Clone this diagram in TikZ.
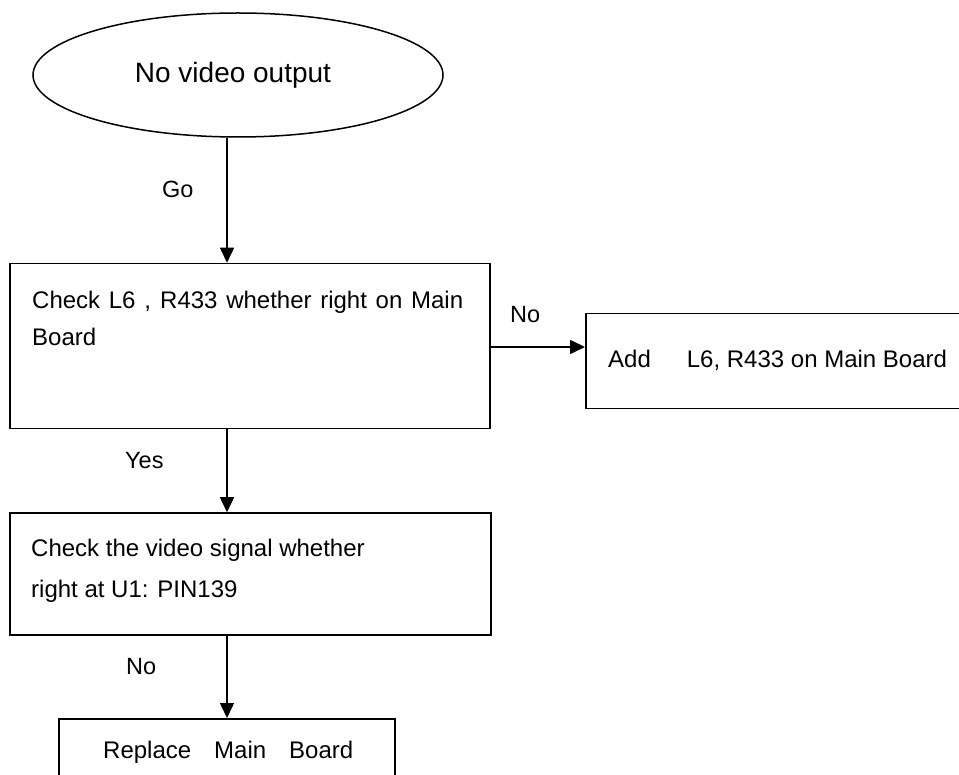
\documentclass[tikz,border=0pt]{standalone}
\usepackage{fontspec}
\setmainfont{Liberation Sans}
\usetikzlibrary{shapes.geometric,arrows.meta}
\tikzset{
  box/.style={draw, line width=1.5pt, rectangle, inner sep=0pt},
  oval/.style={draw, line width=1.5pt, ellipse, inner sep=0pt},
  txt/.style={inner sep=0pt, anchor=base west, font=\fontsize{24}{24}\selectfont},
  lbl/.style={inner sep=0pt, anchor=base west, font=\fontsize{23.5}{23.5}\selectfont},
  arr/.style={line width=1.5pt, -{Triangle[length=15pt,width=14pt]}},
}
\begin{document}
\begin{tikzpicture}[x=1pt,y=-1pt]
\clip (0,0) rectangle (959,775);
\fill[white] (0,0) rectangle (959,775);
% shapes
\node[oval, minimum width=410pt, minimum height=124pt] (start) at (238,75) {};
\node[inner sep=0pt, anchor=base, font=\fontsize{28}{28}\selectfont] (starttxt) at (233,83) {No video output};
\node[box, minimum width=480pt, minimum height=165pt] (b1) at (250,346) {};
\node[box, minimum width=400pt, minimum height=95pt, anchor=north west] (b2) at (585,313) {};
\node[box, minimum width=481pt, minimum height=122pt] (b3) at (250.5,574) {};
\node[box, minimum width=336pt, minimum height=120pt, anchor=north west] (b4) at (58,718) {};
% texts
\node[txt] (t1a) at (32,309) {\makebox[431pt][s]{Check L6 , R433 whether right on Main}};
\node[txt] (t1b) at (32,346) {Board};
\node[txt] (t2) at (608,368) {Add\hspace{36pt}L6, R433 on Main Board};
\node[txt] (t3a) at (31,556) {Check the video signal whether};
\node[txt] (t3b) at (31,597) {right at U1: PIN139};
\node[txt] (t4) at (103,758) {Replace\hspace{23pt}Main\hspace{23pt}Board};
% labels
\node[lbl] (lgo) at (162,198) {Go};
\node[lbl] (lno1) at (510,323) {No};
\node[lbl] (lyes) at (125,468) {Yes};
\node[lbl] (lno2) at (126,674) {No};
% connectors
\coordinate (axis) at (227,0);
\draw[arr] (start.south -| axis) -- (b1.north -| axis);
\draw[arr] (b1.east |- 0,347) -- (b2.west |- 0,347);
\draw[arr] (b1.south -| axis) -- (b3.north -| axis);
\draw[arr] (b3.south -| axis) -- (b4.north -| axis);
\end{tikzpicture}
\end{document}
